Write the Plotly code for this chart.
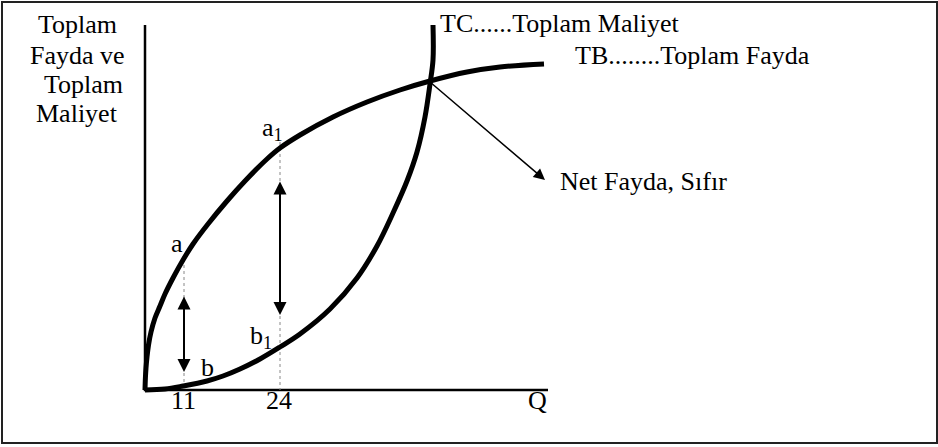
import plotly.graph_objects as go

# schematic units: Q along the horizontal axis, value (benefit / cost) vertically
# toplam fayda (TB) egrisi
tb_q = [0, 0.4, 1, 2, 3.5, 6, 10, 15, 20, 28, 38, 48, 63, 82, 100, 122, 135, 155, 188, 222, 255, 285, 322, 355, 399]
tb_val = [0, 12, 22, 33, 45, 58, 72, 84, 96, 112, 130, 146, 166, 189, 209, 231, 242, 255, 273, 288, 300, 309, 318, 323, 326]

# toplam maliyet (TC) egrisi
tc_q = [0, 20, 38, 62, 78, 95, 115, 135, 155, 185, 212, 232, 248, 262, 272, 280, 285, 288, 288]
tc_val = [0, 1, 4, 9, 14, 21, 31, 43, 56, 81, 112, 144, 177, 209, 238, 273, 306, 330, 365]

# eksenler
q_axis_end = 403
val_axis_end = 365

# Q = 11 ve Q = 24 noktalari
q_marks = [39, 135]
q_labels = ["11", "24"]
tb_at_marks = [131, 248]
arrow_top = [95, 210]
arrow_bottom = [18, 75]

# TB = TC kesisimi ve "Net Fayda, Sifir" oku
cross_q, cross_val = 285, 308
net_q, net_val = 400, 210

FONT = '"Liberation Serif", "Times New Roman", Times, "DejaVu Serif", serif'
W, H = 938, 447

fig = go.Figure()

# eksen cizgileri
fig.add_trace(go.Scatter(x=[0, 0, q_axis_end], y=[val_axis_end, 0, 0], mode="lines",
                         line=dict(color="black", width=2.5), hoverinfo="skip"))

# noktali dikey cizgiler
for q, v in zip(q_marks, tb_at_marks):
    fig.add_trace(go.Scatter(x=[q, q], y=[v, 0], mode="lines",
                             line=dict(color="#888888", width=1, dash="dot"), hoverinfo="skip"))

fig.add_trace(go.Scatter(x=tb_q, y=tb_val, mode="lines",
                         line=dict(color="black", width=5, shape="spline", smoothing=1), hoverinfo="skip"))
fig.add_trace(go.Scatter(x=tc_q, y=tc_val, mode="lines",
                         line=dict(color="black", width=5, shape="spline", smoothing=1), hoverinfo="skip"))

# cift yonlu oklar
for q, top, bot in zip(q_marks, arrow_top, arrow_bottom):
    fig.add_annotation(x=q, y=bot, ax=q, ay=top, axref="x", ayref="y", xref="x", yref="y",
                       text="", showarrow=True, arrowhead=2, arrowsize=1.3, arrowwidth=2,
                       arrowside="end+start", startarrowhead=2, startarrowsize=1.3, arrowcolor="black")

fig.add_annotation(x=net_q, y=net_val, ax=cross_q, ay=cross_val, axref="x", ayref="y", xref="x", yref="y",
                   text="", showarrow=True, arrowhead=2, arrowsize=1.5, arrowwidth=1.5, arrowcolor="black")


def label(text, x, y, xanchor="center", size=26):
    fig.add_annotation(x=x, y=y, xref="x", yref="y", text=text, showarrow=False,
                       xanchor=xanchor, yanchor="middle", font=dict(family=FONT, size=size, color="black"))


# dikey eksen basligi
label("Toplam", -68, 366)
label("Fayda ve", -68, 335)
label("Toplam", -62, 306)
label("Maliyet", -68, 277)

label("TC......Toplam Maliyet", 293, 367, xanchor="left")
label("TB........Toplam Fayda", 428, 335, xanchor="left")
label("Net Fayda, Sıfır", 413, 209, xanchor="left")

label("a", 32, 147)
label("a<sub>1</sub>", 115, 261, xanchor="left")
label("b", 62, 23)
label("b<sub>1</sub>", 103, 53, xanchor="left")

for q, t in zip(q_marks, q_labels):
    label(t, q - 1, -10)
label("Q", 392, -10)

# cerceve
fig.add_shape(type="rect", xref="paper", yref="paper", x0=2 / W, x1=937 / W, y0=1 - 443 / H, y1=1 - 2 / H,
              line=dict(color="#222222", width=2))

fig.update_layout(
    width=W, height=H, margin=dict(l=0, r=0, t=0, b=0),
    plot_bgcolor="white", paper_bgcolor="white", showlegend=False,
    xaxis=dict(range=[-145, W - 145], visible=False),
    yaxis=dict(range=[390 - H, 390], visible=False),
)

fig.write_html("out.html", config={"displayModeBar": False},
               post_script="document.body.style.margin = '0';")
